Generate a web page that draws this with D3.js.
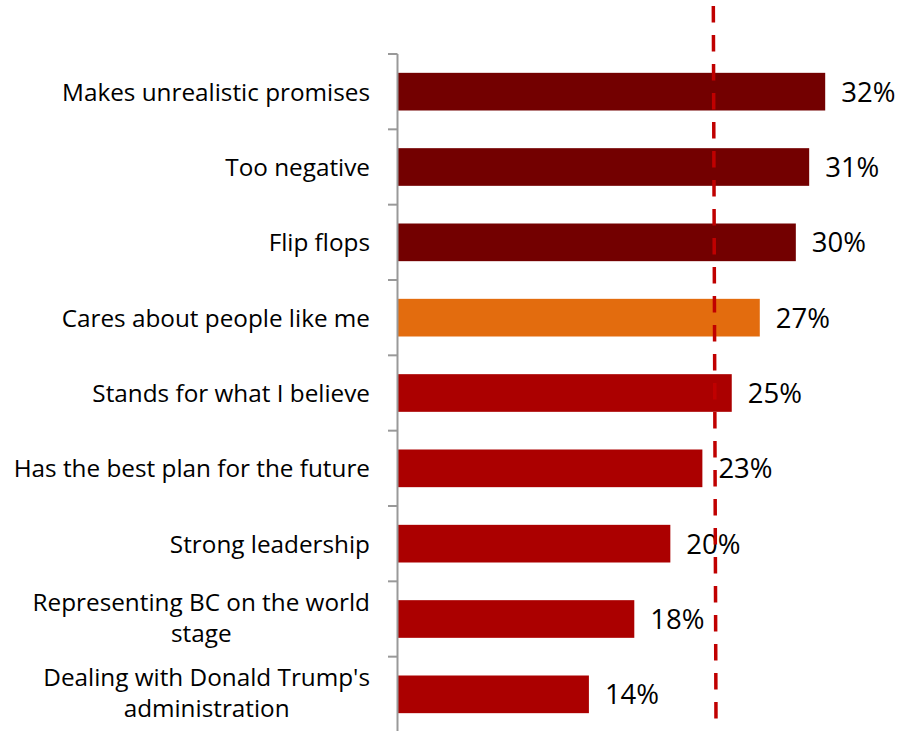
<!DOCTYPE html>
<html>
<head>
<meta charset="utf-8">
<script src="https://cdn.jsdelivr.net/npm/d3@7"></script>
<style>
  html, body { margin: 0; padding: 0; background: #fff; }
  svg { display: block; }
</style>
</head>
<body>
<svg id="chart" width="897" height="731"></svg>
<script>
// ---- Data ----
const categories = [
  "Makes unrealistic promises",
  "Too negative",
  "Flip flops",
  "Cares about people like me",
  "Stands for what I believe",
  "Has the best plan for the future",
  "Strong leadership",
  "Representing BC on the world stage",
  "Dealing with Donald Trump's administration"
];
const categoryLines = [
  ["Makes unrealistic promises"],
  ["Too negative"],
  ["Flip flops"],
  ["Cares about people like me"],
  ["Stands for what I believe"],
  ["Has the best plan for the future"],
  ["Strong leadership"],
  ["Representing BC on the world", "stage"],
  ["Dealing with Donald Trump's", "administration"]
];
const values = [32.0, 30.8, 29.8, 27.1, 25.0, 22.8, 20.4, 17.7, 14.3];
const valueLabels = ["32%", "31%", "30%", "27%", "25%", "23%", "20%", "18%", "14%"];
const groups = ["negative", "negative", "negative", "highlight", "positive", "positive", "positive", "positive", "positive"];
const referenceTop = 23.62;
const referenceBottom = 23.82;
const xDomain = [0, 35];

// ---- Styles ----
const colors = { negative: "#730000", highlight: "#E36C0E", positive: "#AB0000" };

const svg = d3.select("#chart");
const fontFamily = "'Open Sans', sans-serif";

const x = d3.scaleLinear().domain(xDomain).range([398, 398 + 35 * 13.35]);
const y = d3.scaleBand().domain(categories).range([54, 732]).paddingInner(0.5).paddingOuter(0.25);
const step = y.step();

// bars
svg.append("g").selectAll("rect")
  .data(categories)
  .join("rect")
  .attr("x", x(0))
  .attr("y", d => y(d))
  .attr("width", (d, i) => x(values[i]) - x(0))
  .attr("height", y.bandwidth())
  .attr("fill", (d, i) => colors[groups[i]]);

// value labels
svg.append("g").selectAll("text")
  .data(categories)
  .join("text")
  .attr("x", (d, i) => x(values[i]) + 16)
  .attr("y", d => y(d) + y.bandwidth() / 2)
  .attr("dy", "0.36em")
  .attr("font-family", fontFamily)
  .attr("font-size", 27.5)
  .attr("fill", "#000")
  .text((d, i) => valueLabels[i]);

// axis (left) with ticks at band boundaries
const axisG = svg.append("g");
const r = y.range();
axisG.append("line")
  .attr("x1", x(0) - 0.5).attr("x2", x(0) - 0.5)
  .attr("y1", r[0]).attr("y2", r[1])
  .attr("stroke", "#999").attr("stroke-width", 2);
const boundaries = d3.range(categories.length + 1).map(i => r[0] + i * step);
axisG.selectAll("line.tick")
  .data(boundaries)
  .join("line")
  .attr("class", "tick")
  .attr("x1", x(0) - 10).attr("x2", x(0) - 0.5)
  .attr("y1", d => d).attr("y2", d => d)
  .attr("stroke", "#999").attr("stroke-width", 2);

// category labels
const labG = svg.append("g");
const labelRight = 370;
categories.forEach((c, i) => {
  const lines = categoryLines[i];
  const cy = y(c) + y.bandwidth() / 2;
  const t = labG.append("text")
    .attr("font-family", fontFamily)
    .attr("font-size", 24.3)
    .attr("fill", "#000");
  if (lines.length === 1) {
    t.attr("text-anchor", "end");
    t.append("tspan").attr("x", labelRight).attr("y", cy + 9).text(lines[0]);
  } else {
    t.attr("text-anchor", "middle");
    const spans = lines.map((ln, j) =>
      t.append("tspan").attr("y", cy - 8.5 + j * 31.5).text(ln));
    const maxW = d3.max(spans, s => s.node().getComputedTextLength());
    spans.forEach(s => s.attr("x", labelRight - maxW / 2));
  }
});

// reference dashed line
svg.append("line")
  .attr("x1", x(referenceTop)).attr("x2", x(referenceBottom))
  .attr("y1", 6).attr("y2", 722)
  .attr("stroke", "#C00000")
  .attr("stroke-width", 3.5)
  .attr("stroke-dasharray", "16.5 12.5");
</script>
</body>
</html>
